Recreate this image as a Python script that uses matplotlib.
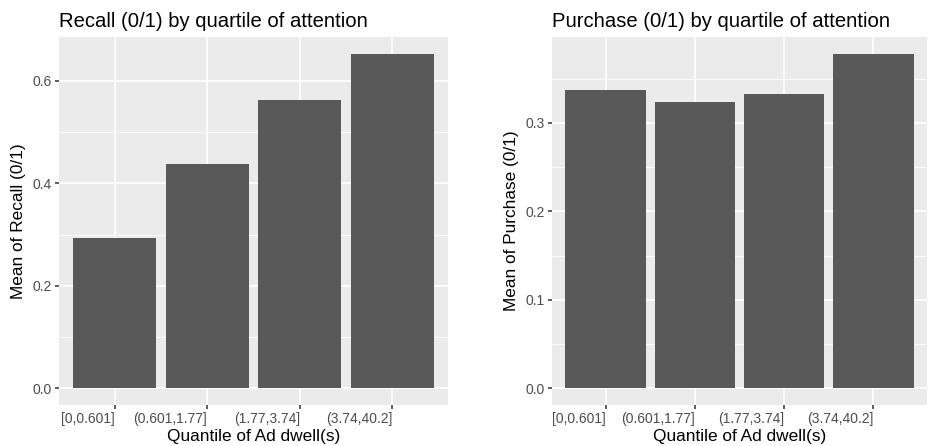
import numpy as np
import matplotlib
matplotlib.use('Agg')
import matplotlib.pyplot as plt
from matplotlib.ticker import MultipleLocator

plt.rcParams['font.family'] = ['Liberation Sans', 'DejaVu Sans']

####################################################################################################

quartiles = ['[0,0.601]', '(0.601,1.77]', '(1.77,3.74]', '(3.74,40.2]']
recall_mean = [0.293, 0.438, 0.563, 0.653]
purchase_mean = [0.337, 0.324, 0.333, 0.378]

####################################################################################################

W, H = 932, 446
fig = plt.figure(figsize=(W / 100, H / 100), dpi=100)

bg = '#EBEBEB'
bar_color = '#595959'


def panel(rect, values, title, ylabel, major, minor):
    ax = fig.add_axes(rect)
    ax.set_facecolor(bg)
    x = np.arange(len(values))
    ax.bar(x, values, width=0.9, color=bar_color, zorder=3)
    top = max(values)
    pad = top * 0.05
    ax.set_ylim(-pad, top + pad)
    ax.set_xlim(-0.6, len(values) - 0.4)
    ax.yaxis.set_major_locator(MultipleLocator(major))
    ax.yaxis.set_minor_locator(MultipleLocator(minor))
    ax.yaxis.set_major_formatter(lambda v, p: '%.1f' % v)
    ax.set_xticks(x)
    # labels end at the tick, as with hjust = 1
    ax.set_xticklabels(quartiles, ha='right')
    ax.grid(which='major', color='white', linewidth=1.2, zorder=1)
    ax.grid(which='minor', axis='y', color='white', linewidth=0.6, zorder=1)
    ax.tick_params(which='major', length=3, width=1.1, color='#333333',
                   labelcolor='#4D4D4D', labelsize=10, pad=2)
    ax.tick_params(which='minor', length=0)
    for s in ax.spines.values():
        s.set_visible(False)
    ax.set_xlabel('Quantile of Ad dwell(s)', fontsize=12.4, labelpad=2)
    ax.set_ylabel(ylabel, fontsize=12.4, labelpad=5)
    ax.set_title(title, fontsize=14.6, loc='left', pad=7)
    return ax


panel([59 / W, 41 / H, 389 / W, 368 / H], recall_mean,
      'Recall (0/1) by quartile of attention', 'Mean of Recall (0/1)', 0.2, 0.1)
panel([552 / W, 41 / H, 375 / W, 368 / H], purchase_mean,
      'Purchase (0/1) by quartile of attention', 'Mean of Purchase (0/1)', 0.1, 0.05)

fig.savefig('out.png', dpi=100)
